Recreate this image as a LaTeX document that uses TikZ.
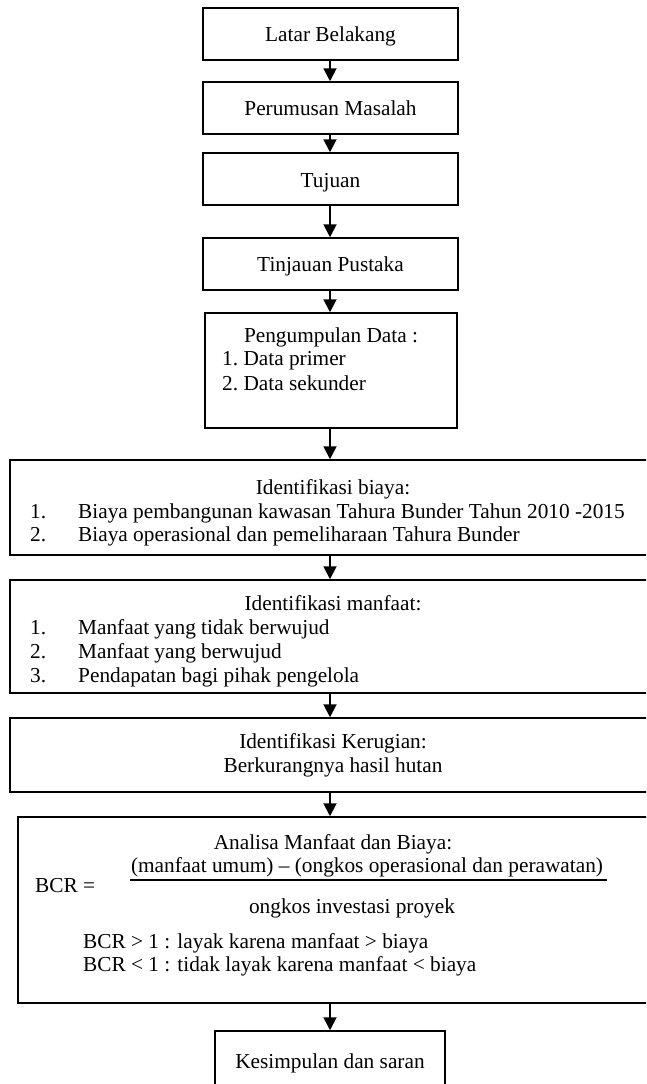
\documentclass[tikz,border=0pt]{standalone}
\usepackage{fontspec}
\setmainfont{Liberation Serif}
\usetikzlibrary{arrows.meta}
\newcommand{\fsz}{\fontsize{21.3}{24}\selectfont}
\begin{document}
\begin{tikzpicture}[x=1pt,y=-1pt,
  box/.style={draw=black, line width=1.5pt, rectangle, inner sep=0pt, minimum width=#1},
  box/.default=255,
  txt/.style={inner sep=0pt, anchor=base, font=\fsz},
  txtl/.style={inner sep=0pt, anchor=base west, font=\fsz},
  arr/.style={line width=1.9pt, -{Triangle[width=13pt,length=13pt]}}
]
\useasboundingbox (0,0) rectangle (646,1084);
\clip (0,0) rectangle (646,1084);
\fill[white] (0,0) rectangle (646,1084);

% boxes
\node[box, minimum height=52] (b1) at (330.5,34) {};
\node[box, minimum height=52] (b2) at (330.5,108) {};
\node[box, minimum height=52] (b3) at (330.5,179) {};
\node[box, minimum height=52] (b4) at (330.5,264) {};
\node[box=252, minimum height=115] (b5) at (331,370.5) {};
\node[box=646, minimum height=95] (b6) at (333,507.5) {};
\node[box=646, minimum height=113] (b7) at (333,636.5) {};
\node[box=646, minimum height=74] (b8) at (333,755) {};
\node[box=642, minimum height=186] (b9) at (339,910) {};
\node[box=230, minimum height=69] (b10) at (330,1065.5) {};

% arrows
\coordinate (ax) at (330,0);
\draw[arr] (ax |- b1.south) -- (ax |- b2.north);
\draw[arr] (ax |- b2.south) -- (ax |- b3.north);
\draw[arr] (ax |- b3.south) -- (ax |- b4.north);
\draw[arr] (ax |- b4.south) -- (ax |- b5.north);
\draw[arr] (ax |- b5.south) -- (ax |- b6.north);
\draw[arr] (ax |- b6.south) -- (ax |- b7.north);
\draw[arr] (ax |- b7.south) -- (ax |- b8.north);
\draw[arr] (ax |- b8.south) -- (ax |- b9.north);
\draw[arr] (ax |- b9.south) -- (ax |- b10.north);

% texts
\node[txt] (t1) at (330.5,41) {Latar Belakang};
\node[txt] (t2) at (330.5,115) {Perumusan Masalah};
\node[txt] (t3) at (330.5,187) {Tujuan};
\node[txt] (t4) at (330.5,271) {Tinjauan Pustaka};

\node[txt] (t5a) at (331,342) {Pengumpulan Data :};
\node[txtl] (t5b) at (222,365) {1.~Data primer};
\node[txtl] (t5c) at (222,390) {2.~Data sekunder};

\node[txt] (t6a) at (333,494) {Identifikasi biaya:};
\node[txtl] (n6b) at (30,518) {1.};
\node[txtl] (t6b) at (78,518) {Biaya pembangunan kawasan Tahura Bunder Tahun 2010 -2015};
\node[txtl] (n6c) at (30,541) {2.};
\node[txtl] (t6c) at (78,541) {Biaya operasional dan pemeliharaan Tahura Bunder};

\node[txt] (t7a) at (333,610) {Identifikasi manfaat:};
\node[txtl] (n7b) at (30,634) {1.};
\node[txtl] (t7b) at (78,634) {Manfaat yang tidak berwujud};
\node[txtl] (n7c) at (30,658) {2.};
\node[txtl] (t7c) at (78,658) {Manfaat yang berwujud};
\node[txtl] (n7d) at (30,682) {3.};
\node[txtl] (t7d) at (78,682) {Pendapatan bagi pihak pengelola};

\node[txt] (t8a) at (333,748) {Identifikasi Kerugian:};
\node[txt] (t8b) at (333,772) {Berkurangnya hasil hutan};

\node[txt] (t9a) at (333,849) {Analisa Manfaat dan Biaya:};
\node[txt] (t9num) at (367,872) {(manfaat umum) -- (ongkos operasional dan perawatan)};
\coordinate (fl) at (130,880);
\coordinate (fr) at (607,880);
\draw[line width=1.5pt] (fl) -- (fr);
\node[txtl] (t9bcr) at (35,892) {BCR =};
\node[txt] (t9den) at (352,913) {ongkos investasi proyek};
\node[txtl] (t9c) at (83,948) {BCR > 1 : layak karena manfaat > biaya};
\node[txtl] (t9d) at (83,971) {BCR < 1 : tidak layak karena manfaat < biaya};

\node[txt] (t10) at (330,1068) {Kesimpulan dan saran};
\end{tikzpicture}
\end{document}
